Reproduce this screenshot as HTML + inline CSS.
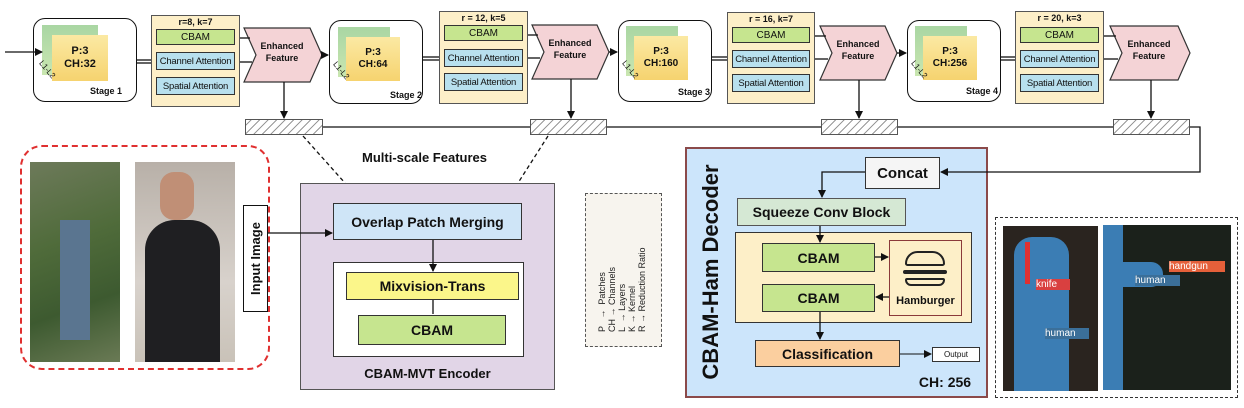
<!DOCTYPE html>
<html><head><meta charset="utf-8"><style>
*{margin:0;padding:0;box-sizing:border-box}
body{width:1244px;height:408px;background:#fff;position:relative;overflow:hidden;font-family:"Liberation Sans",Arial,sans-serif;color:#111}
.a{position:absolute}
.c{display:flex;align-items:center;justify-content:center;text-align:center;white-space:nowrap}
.stage{border:1.5px solid #111;border-radius:12px;background:#fff}
.panel{background:#fdefc8;border:1.5px solid #555}
.g{background:#c6e58f;border:1.5px solid #333;font-size:10px}
.bl{background:#b8e0ee;border:1.5px solid #333;font-size:9.5px;letter-spacing:-0.2px}
.hatch{border:1px solid #555;background:repeating-linear-gradient(135deg,#fff 0 3px,#999 3px 4px,#fff 4px 6px)}
.b{font-weight:bold}
</style></head><body>
<svg class="a" style="left:0;top:0" width="1244" height="408">
<g fill="#f4d3d6" stroke="#333" stroke-width="1.2">
<path d="M244,28 L310,28 L322,55 L310,82 L244,82 L256,55z"/>
<path d="M532,25 L597,25 L609,52 L597,79 L532,79 L544,52z"/>
<path d="M820,26 L885,26 L897,53 L885,80 L820,80 L832,53z"/>
<path d="M1110,26 L1178,26 L1190,53 L1178,80 L1110,80 L1122,53z"/>
</g>
</svg>

<div class="a stage" style="left:33px;top:18px;width:104px;height:84px"></div>
<div class="a stage" style="left:329px;top:20px;width:94px;height:84px"></div>
<div class="a stage" style="left:618px;top:20px;width:94px;height:82px"></div>
<div class="a stage" style="left:907px;top:20px;width:94px;height:82px"></div>
<div class="a" style="left:42px;top:25px;width:56px;height:50px;background:linear-gradient(180deg,#a9d6a3,#c9e6b0)"></div>
<div class="a c b" style="left:52px;top:35px;width:56px;height:46px;background:linear-gradient(180deg,#fbe9a3,#f6d36f);font-size:11px;line-height:13px">P:3<br>CH:32</div>
<div class="a b" style="left:90px;top:86px;font-size:9px">Stage 1</div>
<div class="a" style="left:338px;top:27px;width:52px;height:50px;background:linear-gradient(180deg,#a9d6a3,#c9e6b0)"></div>
<div class="a c b" style="left:346px;top:37px;width:54px;height:44px;background:linear-gradient(180deg,#fbe9a3,#f6d36f);font-size:10px;line-height:12px">P:3<br>CH:64</div>
<div class="a b" style="left:390px;top:90px;font-size:9px">Stage 2</div>
<div class="a" style="left:626px;top:26px;width:52px;height:50px;background:linear-gradient(180deg,#a9d6a3,#c9e6b0)"></div>
<div class="a c b" style="left:634px;top:36px;width:54px;height:44px;background:linear-gradient(180deg,#fbe9a3,#f6d36f);font-size:10px;line-height:12px">P:3<br>CH:160</div>
<div class="a b" style="left:678px;top:87px;font-size:9px">Stage 3</div>
<div class="a" style="left:915px;top:26px;width:52px;height:50px;background:linear-gradient(180deg,#a9d6a3,#c9e6b0)"></div>
<div class="a c b" style="left:923px;top:36px;width:54px;height:44px;background:linear-gradient(180deg,#fbe9a3,#f6d36f);font-size:10px;line-height:12px">P:3<br>CH:256</div>
<div class="a b" style="left:966px;top:86px;font-size:9px">Stage 4</div>
<div class="a" style="left:37px;top:65px;font-size:8px;transform:rotate(50deg)">L1-L2</div>
<div class="a" style="left:331px;top:66px;font-size:8px;transform:rotate(50deg)">L1-L2</div>
<div class="a" style="left:620px;top:65px;font-size:8px;transform:rotate(50deg)">L1-L2</div>
<div class="a" style="left:909px;top:65px;font-size:8px;transform:rotate(50deg)">L1-L2</div>

<div class="a panel" style="left:151px;top:15px;width:89px;height:92px"></div>
<div class="a b" style="left:151px;top:17px;width:89px;text-align:center;font-size:9px">r=8, k=7</div>
<div class="a c g" style="left:156px;top:29px;width:79px;height:16px">CBAM</div>
<div class="a c bl" style="left:156px;top:52px;width:79px;height:18px">Channel Attention</div>
<div class="a c bl" style="left:156px;top:77px;width:79px;height:18px">Spatial Attention</div>

<div class="a panel" style="left:439px;top:11px;width:89px;height:93px"></div>
<div class="a b" style="left:439px;top:13px;width:89px;text-align:center;font-size:9px">r = 12, k=5</div>
<div class="a c g" style="left:444px;top:25px;width:79px;height:16px">CBAM</div>
<div class="a c bl" style="left:444px;top:49px;width:79px;height:18px">Channel Attention</div>
<div class="a c bl" style="left:444px;top:73px;width:79px;height:18px">Spatial Attention</div>

<div class="a panel" style="left:727px;top:12px;width:88px;height:92px"></div>
<div class="a b" style="left:727px;top:14px;width:88px;text-align:center;font-size:9px">r = 16, k=7</div>
<div class="a c g" style="left:732px;top:27px;width:78px;height:16px">CBAM</div>
<div class="a c bl" style="left:732px;top:50px;width:78px;height:18px">Channel Attention</div>
<div class="a c bl" style="left:732px;top:74px;width:78px;height:18px">Spatial Attention</div>

<div class="a panel" style="left:1015px;top:11px;width:89px;height:93px"></div>
<div class="a b" style="left:1015px;top:13px;width:89px;text-align:center;font-size:9px">r = 20, k=3</div>
<div class="a c g" style="left:1020px;top:27px;width:79px;height:16px">CBAM</div>
<div class="a c bl" style="left:1020px;top:50px;width:79px;height:18px">Channel Attention</div>
<div class="a c bl" style="left:1020px;top:74px;width:79px;height:18px">Spatial Attention</div>

<div class="a c b" style="left:252px;top:40px;width:60px;font-size:9px;line-height:12px">Enhanced<br>Feature</div>
<div class="a c b" style="left:540px;top:37px;width:60px;font-size:9px;line-height:12px">Enhanced<br>Feature</div>
<div class="a c b" style="left:828px;top:38px;width:60px;font-size:9px;line-height:12px">Enhanced<br>Feature</div>
<div class="a c b" style="left:1118px;top:38px;width:62px;font-size:9px;line-height:12px">Enhanced<br>Feature</div>

<div class="a hatch" style="left:245px;top:119px;width:78px;height:16px"></div>
<div class="a hatch" style="left:530px;top:119px;width:77px;height:16px"></div>
<div class="a hatch" style="left:821px;top:119px;width:77px;height:16px"></div>
<div class="a hatch" style="left:1113px;top:119px;width:77px;height:16px"></div>

<div class="a b" style="left:362px;top:150px;font-size:13px">Multi-scale Features</div>

<div class="a" style="left:20px;top:145px;width:250px;height:225px;border:2px dashed #e03030;border-radius:22px"></div>
<div class="a" style="left:30px;top:162px;width:90px;height:200px;background:linear-gradient(160deg,#6d7a5a,#4f6b3a 40%,#3d5a30 70%,#6a7a55)"></div>
<div class="a" style="left:60px;top:220px;width:30px;height:120px;background:#5a7590"></div>
<div class="a" style="left:135px;top:162px;width:100px;height:200px;background:linear-gradient(180deg,#b8b0a8,#d8d2cc 60%,#c9c2b8)"></div>
<div class="a" style="left:145px;top:220px;width:75px;height:142px;background:#1f1f22;border-radius:30px 30px 0 0"></div>
<div class="a" style="left:160px;top:172px;width:34px;height:48px;background:#c08f76;border-radius:14px"></div>
<div class="a" style="left:243px;top:205px;width:25px;height:107px;border:1.5px solid #111;background:#fff"></div>
<div class="a b" style="left:209px;top:251px;width:93px;text-align:center;font-size:13px;transform:rotate(-90deg);white-space:nowrap">Input Image</div>

<div class="a" style="left:300px;top:183px;width:255px;height:207px;background:#e1d5e7;border:1.5px solid #555"></div>
<div class="a c b" style="left:333px;top:203px;width:189px;height:37px;background:#cfe5f7;border:1.5px solid #333;font-size:14px">Overlap Patch Merging</div>
<div class="a" style="left:333px;top:262px;width:191px;height:95px;background:#fff;border:1.5px solid #333"></div>
<div class="a c b" style="left:346px;top:272px;width:173px;height:28px;background:#fbf68a;border:1.5px solid #333;font-size:14px">Mixvision-Trans</div>
<div class="a c b" style="left:358px;top:315px;width:148px;height:30px;background:#c6e58f;border:1.5px solid #333;font-size:14px">CBAM</div>
<div class="a b" style="left:300px;top:366px;width:255px;text-align:center;font-size:13px">CBAM-MVT Encoder</div>

<div class="a" style="left:585px;top:193px;width:77px;height:154px;border:1.5px dashed #555;background:#f7f4ee"></div>
<div class="a" style="left:569px;top:250px;width:110px;height:54px;transform:rotate(-90deg);font-size:9px;line-height:10px;white-space:pre;color:#222">P   &#8594;  Patches
CH &#8594; Channels
L  &#8594; Layers
K &#8594; Kernel
R &#8594; Reduction Ratio</div>

<div class="a" style="left:685px;top:147px;width:303px;height:251px;background:#cce5fb;border:2px solid #8b4a4a"></div>
<div class="a b" style="left:601px;top:259px;width:220px;text-align:center;font-size:22px;transform:rotate(-90deg);white-space:nowrap">CBAM-Ham Decoder</div>
<div class="a c b" style="left:865px;top:157px;width:75px;height:32px;background:#f5f5f5;border:1.5px solid #333;font-size:15px">Concat</div>
<div class="a c b" style="left:737px;top:198px;width:169px;height:28px;background:#d5e8d4;border:1.5px solid #555;font-size:14px">Squeeze Conv Block</div>
<div class="a" style="left:735px;top:232px;width:237px;height:91px;background:#fdefc8;border:1.5px solid #333"></div>
<div class="a c b" style="left:762px;top:243px;width:113px;height:29px;background:#c6e58f;border:1.5px solid #333;font-size:14px">CBAM</div>
<div class="a c b" style="left:762px;top:284px;width:113px;height:28px;background:#c6e58f;border:1.5px solid #333;font-size:14px">CBAM</div>
<div class="a" style="left:889px;top:240px;width:73px;height:76px;background:#fdefc8;border:1.5px solid #8b3a3a"></div>
<div class="a" style="left:905px;top:251px;width:40px;height:15px;border:2.5px solid #222;border-radius:20px 20px 4px 4px"></div>
<div class="a" style="left:903px;top:270px;width:44px;height:4px;background:#222;border-radius:2px"></div>
<div class="a" style="left:905px;top:278px;width:40px;height:8px;border:2.5px solid #222;border-radius:2px 2px 6px 6px"></div>
<div class="a b" style="left:889px;top:295px;width:73px;text-align:center;font-size:11px">Hamburger</div>
<div class="a c b" style="left:755px;top:340px;width:145px;height:27px;background:#fbcf9f;border:1.5px solid #333;font-size:14px">Classification</div>
<div class="a c" style="left:932px;top:347px;width:48px;height:15px;background:#fff;border:1px solid #333;font-size:8px">Output</div>
<div class="a b" style="left:905px;top:374px;width:80px;text-align:center;font-size:14px">CH: 256</div>

<div class="a" style="left:995px;top:217px;width:243px;height:181px;border:1.5px dashed #333"></div>
<div class="a" style="left:1003px;top:226px;width:95px;height:165px;background:#2a241f"></div>
<div class="a" style="left:1014px;top:237px;width:55px;height:154px;background:#3b7db4;border-radius:18px 18px 0 0"></div>
<div class="a" style="left:1025px;top:242px;width:5px;height:42px;background:#e03030"></div>
<div class="a" style="left:1036px;top:279px;width:34px;height:11px;background:#d94040;color:#fff;font-size:10px;line-height:11px">knife</div>
<div class="a" style="left:1045px;top:328px;width:44px;height:11px;background:#3b6f99;color:#fff;font-size:10px;line-height:11px">human</div>
<div class="a" style="left:1103px;top:225px;width:128px;height:165px;background:#1b211b"></div>
<div class="a" style="left:1103px;top:225px;width:20px;height:165px;background:#3b7db4"></div>
<div class="a" style="left:1123px;top:262px;width:40px;height:25px;background:#3b7db4;border-radius:0 12px 12px 0"></div>
<div class="a" style="left:1169px;top:261px;width:56px;height:11px;background:#e5603a;color:#fff;font-size:10px;line-height:11px">handgun</div>
<div class="a" style="left:1135px;top:275px;width:45px;height:11px;background:#3b6f99;color:#fff;font-size:10px;line-height:11px">human</div>

<svg class="a" style="left:0;top:0;pointer-events:none" width="1244" height="408">
<defs><marker id="ar" markerWidth="8" markerHeight="8" refX="7" refY="4" orient="auto" markerUnits="userSpaceOnUse"><path d="M0,0L8,4L0,8z" fill="#111"/></marker></defs>
<g stroke="#111" stroke-width="1.3" fill="none">
<line x1="5" y1="52" x2="42" y2="52" marker-end="url(#ar)"/>
<line x1="137" y1="60" x2="151" y2="60"/><line x1="137" y1="63" x2="151" y2="63"/>
<line x1="240" y1="38" x2="250" y2="38"/><line x1="240" y1="62" x2="252" y2="62"/>
<line x1="322" y1="55" x2="328" y2="55" marker-end="url(#ar)"/>
<line x1="423" y1="57" x2="439" y2="57"/><line x1="423" y1="60" x2="439" y2="60"/>
<line x1="528" y1="35" x2="538" y2="35"/><line x1="528" y1="58" x2="540" y2="58"/>
<line x1="609" y1="52" x2="617" y2="52" marker-end="url(#ar)"/>
<line x1="712" y1="57" x2="727" y2="57"/><line x1="712" y1="60" x2="727" y2="60"/>
<line x1="815" y1="36" x2="826" y2="36"/><line x1="815" y1="59" x2="828" y2="59"/>
<line x1="897" y1="53" x2="906" y2="53" marker-end="url(#ar)"/>
<line x1="1000" y1="57" x2="1015" y2="57"/><line x1="1000" y1="60" x2="1015" y2="60"/>
<line x1="1104" y1="36" x2="1116" y2="36"/><line x1="1104" y1="59" x2="1118" y2="59"/>
<line x1="284" y1="82" x2="284" y2="118" marker-end="url(#ar)"/>
<line x1="571" y1="79" x2="571" y2="118" marker-end="url(#ar)"/>
<line x1="859" y1="80" x2="859" y2="118" marker-end="url(#ar)"/>
<line x1="1151" y1="80" x2="1151" y2="118" marker-end="url(#ar)"/>
<line x1="323" y1="127" x2="530" y2="127"/>
<line x1="607" y1="127" x2="821" y2="127"/>
<line x1="898" y1="127" x2="1113" y2="127"/>
<polyline points="1190,127 1200,127 1200,172 941,172" marker-end="url(#ar)"/>
<line x1="268" y1="233" x2="332" y2="233" marker-end="url(#ar)"/>
<line x1="433" y1="240" x2="433" y2="271" marker-end="url(#ar)"/>
<line x1="433" y1="300" x2="433" y2="314"/>
<line x1="303" y1="136" x2="345" y2="183" stroke-dasharray="4,3"/>
<line x1="548" y1="136" x2="518" y2="183" stroke-dasharray="4,3"/>
<polyline points="865,172 822,172 822,197" marker-end="url(#ar)"/>
<line x1="820" y1="226" x2="820" y2="242" marker-end="url(#ar)"/>
<line x1="875" y1="257" x2="888" y2="257" marker-end="url(#ar)"/>
<line x1="889" y1="297" x2="876" y2="297" marker-end="url(#ar)"/>
<line x1="820" y1="312" x2="820" y2="339" marker-end="url(#ar)"/>
<line x1="900" y1="354" x2="931" y2="354" marker-end="url(#ar)" stroke-width="1"/>
</g>
</svg>
</body></html>
